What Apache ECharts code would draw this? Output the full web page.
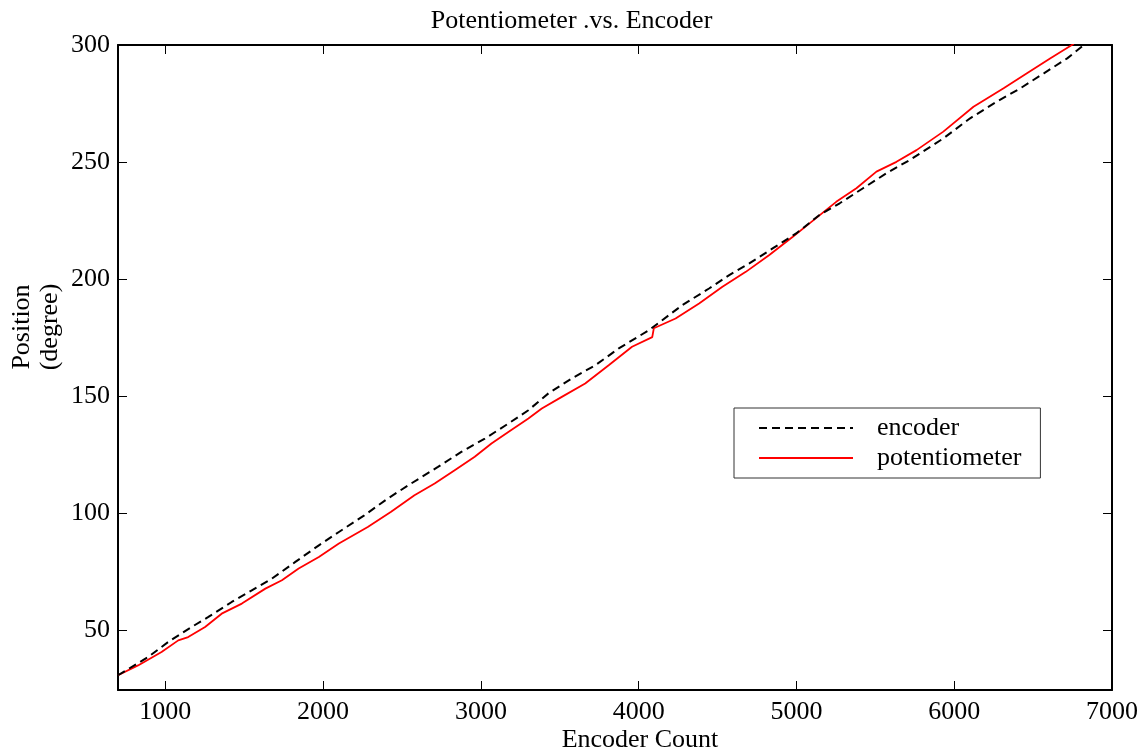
<!DOCTYPE html>
<html>
<head>
<meta charset="utf-8">
<script src="https://cdn.jsdelivr.net/npm/echarts@6/dist/echarts.min.js"></script>
<style>
html,body{margin:0;padding:0;background:#fff;}
#chart{width:1143px;height:752px;}
</style>
</head>
<body>
<div id="chart"></div>
<script>
const FONT = '"Liberation Serif", "Times New Roman", serif';

const titleText = 'Potentiometer .vs. Encoder';
const xAxisName = 'Encoder Count';
const yAxisName = 'Position\n(degree)';
const seriesNames = ['encoder', 'potentiometer'];

const xTicks = [1000, 2000, 3000, 4000, 5000, 6000, 7000];
const yTicks = [50, 100, 150, 200, 250, 300];

const encoderX = [700, 891, 1018, 1166, 1273, 1421, 1548, 1676, 1824, 1973, 2100, 2261, 2410, 2558, 2728, 2876, 3025, 3174, 3301, 3428, 3577, 3725, 3874, 4065, 4277, 4446, 4574, 4701, 4849, 4998, 5146, 5274, 5422, 5570, 5719, 5931, 6101, 6270, 6419, 6568, 6716, 6822];
const encoderY = [30.8, 38.6, 45.0, 51.4, 55.7, 62.1, 67.1, 72.1, 79.2, 86.3, 92.0, 99.1, 106.3, 112.7, 119.8, 126.2, 131.9, 138.3, 144.0, 151.2, 157.6, 163.2, 170.4, 178.2, 188.9, 196.0, 201.7, 206.7, 213.1, 219.5, 227.4, 232.4, 238.8, 245.2, 250.9, 260.1, 268.7, 275.8, 281.5, 287.9, 294.3, 300];

const potX = [700, 827, 976, 1082, 1145, 1252, 1357, 1485, 1634, 1739, 1845, 1973, 2100, 2283, 2431, 2579, 2707, 2834, 2961, 3067, 3174, 3301, 3386, 3513, 3661, 3810, 3958, 4086, 4096, 4234, 4383, 4531, 4679, 4828, 4977, 5083, 5252, 5380, 5507, 5634, 5761, 5931, 6122, 6313, 6461, 6610, 6758];
const potY = [30.8, 35.0, 40.7, 45.7, 47.1, 51.4, 57.1, 61.4, 67.8, 71.4, 76.4, 81.3, 87.1, 94.1, 100.6, 107.7, 112.7, 118.4, 124.1, 129.8, 134.7, 140.5, 144.7, 149.7, 155.4, 163.2, 171.1, 175.2, 179.0, 183.2, 189.6, 196.7, 203.1, 210.3, 218.1, 223.8, 233.0, 238.8, 245.9, 250.1, 255.1, 263.0, 273.6, 281.5, 287.9, 294.3, 300.5];

const zip = (xs, ys) => xs.map((x, i) => [x, ys[i]]);

const chart = echarts.init(document.getElementById('chart'), null, {renderer: 'canvas'});

const axisLine = {show: true, onZero: false, lineStyle: {color: '#000', width: 2}};
const tick = (vals) => ({show: true, inside: true, length: 9, customValues: vals, lineStyle: {color: '#000', width: 1}});
const plain = (v) => String(v);

const option = {
  backgroundColor: '#fff',
  animation: false,
  title: {
    text: titleText,
    left: 'center',
    top: 3,
    textStyle: {fontFamily: FONT, fontSize: 26, fontWeight: 'normal', color: '#000'}
  },
  grid: {left: 118, right: 31, top: 45, bottom: 62, containLabel: false},
  legend: {
    orient: 'vertical',
    left: 734,
    top: 408,
    padding: [7, 19, 7, 24],
    itemWidth: 94,
    itemHeight: 20,
    itemGap: 4,
    borderColor: '#333',
    borderWidth: 1,
    itemStyle: {color: 'rgba(0,0,0,0)', borderColor: 'rgba(0,0,0,0)', borderWidth: 0},
    textStyle: {fontFamily: FONT, fontSize: 26, lineHeight: 26, color: '#000', padding: [0, 0, 0, 19]},
    data: seriesNames
  },
  xAxis: [
    {
      type: 'value', min: 700, max: 7000, position: 'bottom',
      axisLine: axisLine,
      axisTick: tick(xTicks),
      axisLabel: {customValues: xTicks, formatter: plain, margin: 9, fontFamily: FONT, fontSize: 26, color: '#000'},
      splitLine: {show: false}
    },
    {
      type: 'value', min: 700, max: 7000, position: 'top',
      axisLine: axisLine,
      axisTick: tick(xTicks),
      axisLabel: {show: false},
      splitLine: {show: false}
    }
  ],
  yAxis: [
    {
      type: 'value', min: 24.5, max: 300, position: 'left',
      axisLine: axisLine,
      axisTick: tick(yTicks),
      axisLabel: {customValues: yTicks, formatter: plain, margin: 8, fontFamily: FONT, fontSize: 26, color: '#000'},
      splitLine: {show: false}
    },
    {
      type: 'value', min: 24.5, max: 300, position: 'right',
      axisLine: axisLine,
      axisTick: tick(yTicks),
      axisLabel: {show: false},
      splitLine: {show: false}
    }
  ],
  graphic: [
    {
      type: 'text', x: 640, y: 740,
      style: {text: xAxisName, font: '26px ' + FONT, fill: '#000', textAlign: 'center', textVerticalAlign: 'middle'}
    },
    {
      type: 'text', x: 36, y: 327, rotation: Math.PI / 2,
      style: {text: yAxisName, font: '26px ' + FONT, fill: '#000', textAlign: 'center', textVerticalAlign: 'middle', lineHeight: 28}
    }
  ],
  series: [
    {
      name: seriesNames[0], type: 'line', xAxisIndex: 0, yAxisIndex: 0,
      data: zip(encoderX, encoderY),
      symbol: 'none', showSymbol: false, smooth: false, clip: true,
      lineStyle: {color: '#000', width: 2, type: [8, 5]},
      itemStyle: {color: '#000'},
      z: 3
    },
    {
      name: seriesNames[1], type: 'line', xAxisIndex: 0, yAxisIndex: 0,
      data: zip(potX, potY),
      symbol: 'none', showSymbol: false, smooth: false, clip: true,
      lineStyle: {color: '#ff0000', width: 1.8},
      itemStyle: {color: '#ff0000'},
      z: 2
    }
  ]
};
chart.setOption(option);
</script>
</body>
</html>
